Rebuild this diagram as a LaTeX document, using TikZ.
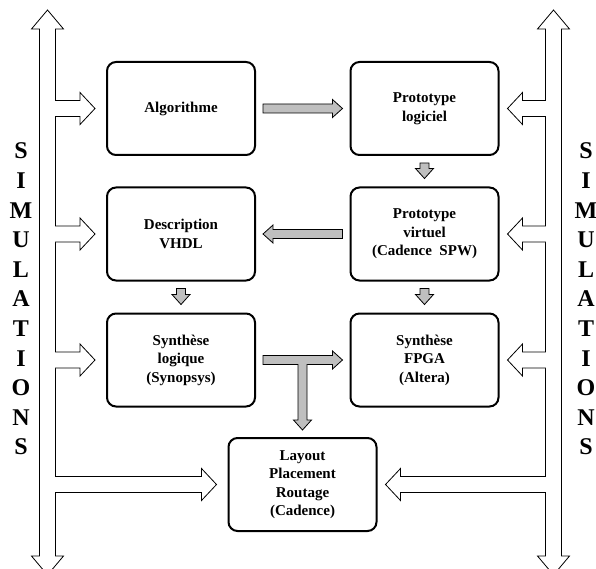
\documentclass[tikz,border=0pt]{standalone}
\usepackage{fontspec}
\setmainfont{Liberation Serif}
\usetikzlibrary{calc}

% block arrow drawn along a "to": shaft half width, head half width, head length, end
\tikzset{
  fat/.style n args={4}{to path={let \p1=(\tikztostart), \p2=(\tikztotarget),
      \n1={veclen(\x2-\x1,\y2-\y1)}, \n2={atan2(\y2-\y1,\x2-\x1)} in
      [shift={(\p1)}, rotate=\n2] (0pt,-#1) -- ({\n1-#3},-#1) -- ({\n1-#3},-#2) -- (\n1,0pt)
      -- ({\n1-#3},#2) -- ({\n1-#3},#1) -- (0pt,#1) #4}}
}

\begin{document}
\begin{tikzpicture}[x=1pt, y=-1pt,
  box/.style={draw, line width=2pt, rounded corners=9pt, minimum width=148pt, minimum height=93pt,
    align=center, font=\bfseries\fontsize{15}{18.5}\selectfont},
  grayarrow/.style={fat={4.5pt}{9pt}{10pt}{-- cycle}, draw, fill=black!25, line width=0.8pt},
  grayarrow open/.style={fat={4.5pt}{9pt}{10pt}{}, draw, fill=black!25, line width=0.8pt},
  simarrow/.style={fat={8pt}{16pt}{15pt}{}, draw, fill=white, line width=0.8pt},
  letters/.style={align=center, font=\bfseries\fontsize{24}{29.6}\selectfont}]
\useasboundingbox (0,0) rectangle (596,569);

% design steps
\node[box] (alg) at (181,108.5) {Algorithme};
\node[box] (proto) at (424.5,108.5) {Prototype\\logiciel};
\node[box] (desc) at (181,234) {Description\\VHDL};
\node[box] (virt) at (424.5,234) {Prototype\\virtuel\\(Cadence\ \ SPW)};
\node[box] (synl) at (181,360) {Synthèse\\logique\\(Synopsys)};
\node[box] (fpga) at (424.5,360) {Synthèse\\FPGA\\(Altera)};
\node[box] (lay) at (302.5,484.5) {Layout\\Placement\\Routage\\(Cadence)};

% flow
\draw[grayarrow] ($(alg.east)+(7,0)$) to ($(proto.west)+(-7,0)$);
\draw[grayarrow] ($(proto.south)+(0,7)$) to ($(virt.north)+(0,-8)$);
\draw[grayarrow] ($(virt.west)+(-7,0)$) to ($(desc.east)+(7,0)$);
\draw[grayarrow] ($(desc.south)+(0,7)$) to ($(synl.north)+(0,-8)$);
\draw[grayarrow] ($(virt.south)+(0,7)$) to ($(fpga.north)+(0,-8)$);
\coordinate (tee) at ($(synl.east)!0.5!(fpga.west)$);
\draw[grayarrow] ($(synl.east)+(7,0)$) to ($(fpga.west)+(-7,0)$);
\draw[grayarrow open] ($(lay.north |- tee)+(0,4.1)$) to ($(lay.north)+(0,-7)$);

% simulation buses
\draw[line width=0.8pt, fill=white] (39.5,29) -- (31.5,29) -- (47.5,10) -- (63.5,29) -- (55.5,29)
  -- (55.5,556) -- (63.5,556) -- (47.5,575) -- (31.5,556) -- (39.5,556) -- cycle;
\coordinate (busL) at (55.1,0);
\foreach \b in {alg,desc,synl,lay}
  \draw[simarrow] (busL |- \b) to ($(\b.west)+(-11,0)$);
\draw[line width=0.8pt, fill=white] (545.5,29) -- (537.5,29) -- (553.5,10) -- (569.5,29) -- (561.5,29)
  -- (561.5,556) -- (569.5,556) -- (553.5,575) -- (537.5,556) -- (545.5,556) -- cycle;
\coordinate (busR) at (545.9,0);
\foreach \b in {proto,virt,fpga,lay}
  \draw[simarrow] (busR |- \b) to ($(\b.east)+(8,0)$);

\node[letters] (simL) at (21,299) {S\\I\\M\\U\\L\\A\\T\\I\\O\\N\\S};
\node[letters] (simR) at (586,299) {S\\I\\M\\U\\L\\A\\T\\I\\O\\N\\S};
\end{tikzpicture}
\end{document}
